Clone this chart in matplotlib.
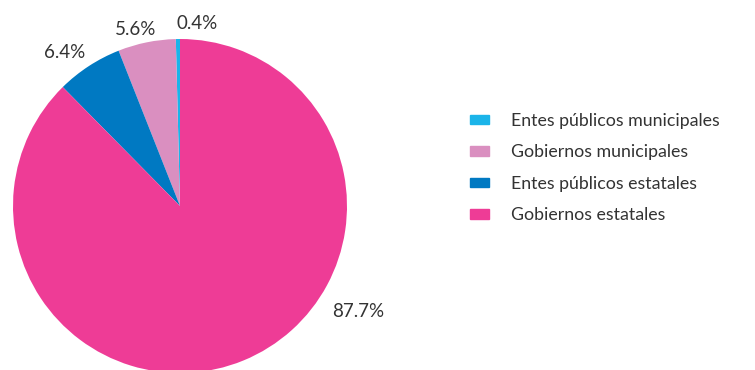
import matplotlib.pyplot as plt
import numpy as np

categories = ['Entes públicos municipales', 'Gobiernos municipales',
              'Entes públicos estatales', 'Gobiernos estatales']
shares = [0.4, 5.6, 6.4, 87.7]
colors = ['#1BB4E9', '#DA8FC0', '#0079C2', '#EE3C96']

plt.rcParams['font.family'] = ['Lato', 'DejaVu Sans']

fig = plt.figure(figsize=(7.55, 3.7), dpi=100)
W, H = 755, 370
cx, cy, r = 180, 206, 167
ax = fig.add_axes([(cx - r) / W, (H - cy - r) / H, 2 * r / W, 2 * r / H])

wedges, _ = ax.pie(shares, colors=colors, startangle=90, counterclock=True,
                   radius=1, wedgeprops=dict(linewidth=0))
for w in wedges:
    w.set_clip_on(False)
ax.set_xlim(-1, 1)
ax.set_ylim(-1, 1)
ax.set_aspect('equal')
ax.axis('off')

# label positions (angle in degrees, distance in radii)
label_pos = [(84.5, 1.10), (104, 1.09), (127, 1.15), (-30.5, 1.24)]
for v, (ang, d) in zip(shares, label_pos):
    a = np.deg2rad(ang)
    ax.text(d * np.cos(a), d * np.sin(a), f'{v}%', ha='center', va='center',
            fontsize=13.5, color='#333333', clip_on=False)

handles = [plt.Rectangle((0, 0), 1, 1, color=c) for c in colors]
fig.legend(handles, categories, loc='center left',
           bbox_to_anchor=(454 / W, 1 - 168 / H), frameon=False,
           fontsize=12.75, handlelength=1.1, handleheight=0.45,
           labelspacing=0.87, handletextpad=1.2, labelcolor='#333333')

fig.savefig('out.png', dpi=100)
